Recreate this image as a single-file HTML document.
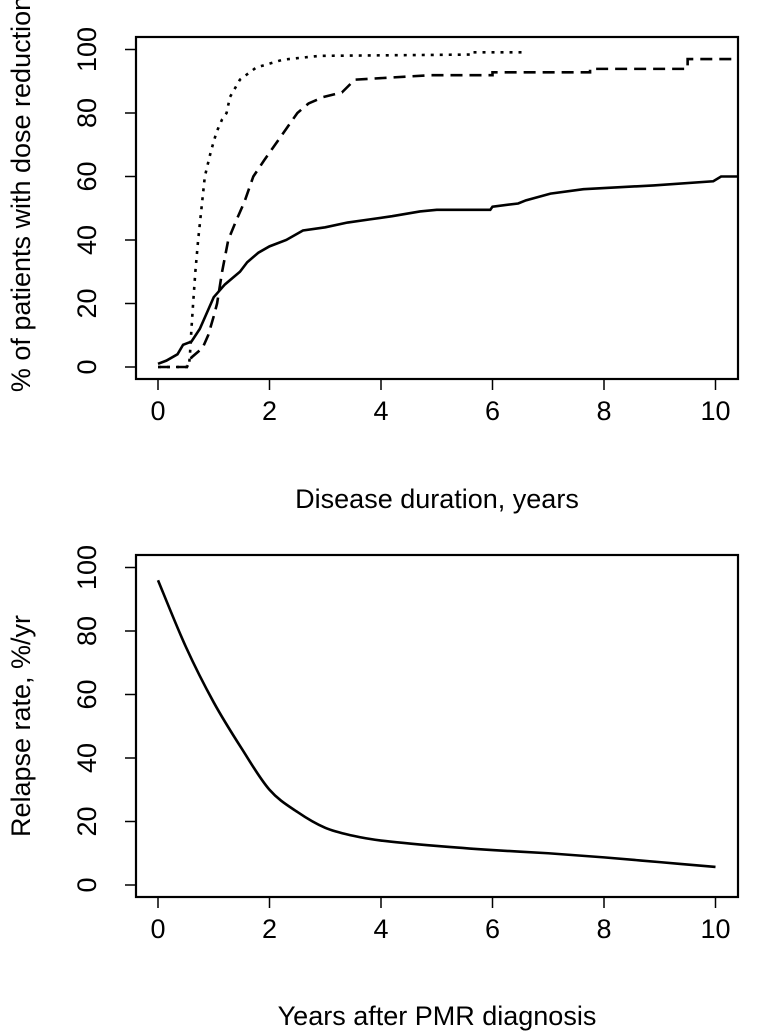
<!DOCTYPE html>
<html><head><meta charset="utf-8"><style>
html,body{margin:0;padding:0;background:#fff;}
svg{display:block;font-family:"Liberation Sans",sans-serif;}
</style></head><body>
<svg id="c" width="762" height="1035" viewBox="0 0 762 1035" xmlns="http://www.w3.org/2000/svg"></svg>
<script>
// Top panel data: step curves [x years, y %]
const solidX = [0,0.15,0.35,0.45,0.6,0.75,0.9,1.0,1.2,1.47,1.6,1.8,2.0,2.3,2.6,3.0,3.4,3.8,4.2,4.7,5.0,5.96,6.0,6.46,6.6,7.04,7.63,8.89,9.96,10.1,10.4];
const solidY = [1,2,4,7,8,12,18,22,26,30,33,36,38,40,43,44,45.5,46.5,47.5,49,49.5,49.5,50.5,51.5,52.5,54.6,56,57.2,58.5,60,60];
const dashX = [0,0.52,0.6,0.8,0.9,1.0,1.06,1.15,1.26,1.4,1.55,1.71,1.9,2.1,2.3,2.5,2.7,2.96,3.3,3.53,4.88,6.0,6.0,7.75,7.75,9.5,9.5,10.4];
const dashY = [0,0,3,6,10,16,20,30,40,46,52,60,65,70,75,80,83,85,86.5,90.5,91.9,91.9,92.8,92.8,93.9,93.9,97,97];
const dotX = [0,0.55,0.57,0.6,0.63,0.67,0.72,0.78,0.84,0.95,1.05,1.15,1.23,1.29,1.47,1.76,2.24,2.9,5.6,5.6,6.62];
const dotY = [0,0,3,12,20,30,40,50,60,68,74,78,80,85,90.5,94.3,96.8,98,98.4,99.1,99.1];
// Bottom panel data
const relX = [0,0.5,1,1.5,2,2.5,3,3.5,4,5,6,7,8,9,10];
const relY = [96,75,57.5,43,30,23,18,15.5,14,12.3,11,10,8.7,7.2,5.7];
const xTicks = [0,2,4,6,8,10];
const yTicks = [0,20,40,60,80,100];

const svg = document.getElementById('c');
const NS = 'http://www.w3.org/2000/svg';
function mk(tag, attrs, parent){const e=document.createElementNS(NS,tag);for(const k in attrs)e.setAttribute(k,attrs[k]);(parent||svg).appendChild(e);return e;}
const sx = v => 158 + v*55.75;
const FS = 27;

function panel(top, y0, name, xTitle, yTitle, xTitleY, yTitleC){
  const sy = v => y0 - v*3.175;
  const g = mk('g',{});
  
  
  const clipId = name+'-clip';
  const cp = mk('clipPath',{id:clipId},g);
  mk('rect',{x:136,y:top,width:602,height:(y0+12)-top},cp);
  const frame = mk('rect',{x:136,y:top,width:602,height:(y0+12)-top,fill:'none',stroke:'#000','stroke-width':2.2},g);
  
  
  const bottom = y0+12;
  xTicks.forEach(t=>{
    const l = mk('line',{x1:sx(t),x2:sx(t),y1:bottom,y2:bottom+11,stroke:'#000','stroke-width':1.5},g);
    
    
    const tx = mk('text',{x:sx(t),y:bottom+41,'text-anchor':'middle','font-size':FS},g);
    tx.textContent = t;
    
    
  });
  yTicks.forEach(t=>{
    const l = mk('line',{x1:125,x2:136,y1:sy(t),y2:sy(t),stroke:'#000','stroke-width':1.5},g);
    
    
    const tx = mk('text',{x:0,y:0,'text-anchor':'middle','font-size':FS,transform:`translate(96,${sy(t)}) rotate(-90)`},g);
    tx.textContent = t;
    
    
  });
  const xt = mk('text',{x:437,y:xTitleY,'text-anchor':'middle','font-size':FS},g);
  xt.textContent = xTitle;
  
  
  const yt = mk('text',{x:0,y:0,'text-anchor':'middle','font-size':FS,transform:`translate(30,${yTitleC}) rotate(-90)`},g);
  yt.textContent = yTitle;
  
  
  return {g, sy, clipId};
}

function stepPath(xs, ys, sy){
  let d = `M${sx(xs[0])},${sy(ys[0])}`;
  for(let i=1;i<xs.length;i++) d += ` L${sx(xs[i])},${sy(ys[i])}`;
  return d;
}

const P1 = panel(37, 367, 'top-panel', 'Disease duration, years', '% of patients with dose reduction', 508, 194);
const s1 = mk('path',{d:stepPath(solidX,solidY,P1.sy),fill:'none',stroke:'#000','stroke-width':2.6,'clip-path':`url(#${P1.clipId})`},P1.g);


const s2 = mk('path',{d:stepPath(dashX,dashY,P1.sy),fill:'none',stroke:'#000','stroke-width':2.6,'stroke-dasharray':'12,7','clip-path':`url(#${P1.clipId})`},P1.g);


const s3 = mk('path',{d:stepPath(dotX,dotY,P1.sy),fill:'none',stroke:'#000','stroke-width':2.6,'stroke-dasharray':'3,6','clip-path':`url(#${P1.clipId})`},P1.g);



const P2 = panel(555, 885, 'bottom-panel', 'Years after PMR diagnosis', 'Relapse rate, %/yr', 1025, 726);
// Catmull-Rom smooth path
function smoothPath(xs, ys, sy){
  const p = xs.map((x,i)=>[sx(x), sy(ys[i])]);
  let d = `M${p[0][0]},${p[0][1]}`;
  for(let i=0;i<p.length-1;i++){
    const p0=p[Math.max(0,i-1)], p1=p[i], p2=p[i+1], p3=p[Math.min(p.length-1,i+2)];
    const c1=[p1[0]+(p2[0]-p0[0])/6, p1[1]+(p2[1]-p0[1])/6];
    const c2=[p2[0]-(p3[0]-p1[0])/6, p2[1]-(p3[1]-p1[1])/6];
    d += ` C${c1[0]},${c1[1]} ${c2[0]},${c2[1]} ${p2[0]},${p2[1]}`;
  }
  return d;
}
const r = mk('path',{d:smoothPath(relX,relY,P2.sy),fill:'none',stroke:'#000','stroke-width':2.6},P2.g);


</script>
</body></html>
